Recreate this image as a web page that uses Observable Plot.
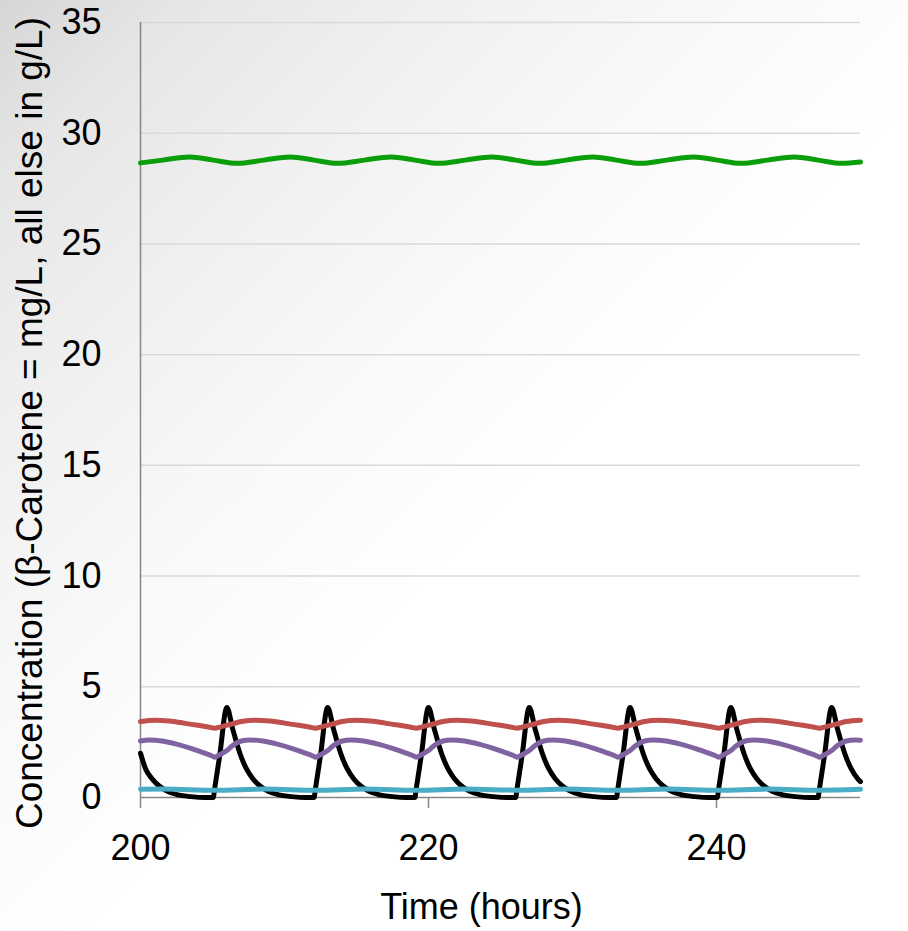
<!DOCTYPE html>
<html>
<head>
<meta charset="utf-8">
<script src="https://cdn.jsdelivr.net/npm/d3@7"></script>
<script src="https://cdn.jsdelivr.net/npm/@observablehq/plot@0.6"></script>
<style>
  html, body { margin: 0; padding: 0; }
  body {
    width: 908px; height: 931px; overflow: hidden;
    background: linear-gradient(135deg, #d6d6d6 0%, #e6e6e6 10%, #f0f0f0 24%, #f9f9f9 40%, #ffffff 55%);
  }
  #chart svg { display: block; }
</style>
</head>
<body>
<div id="chart"></div>
<script>
// ---- axes ----
const xTicks = [200, 220, 240];
const yTicks = [0, 5, 10, 15, 20, 25, 30, 35];
const xLabel = "Time (hours)";
const yLabel = "Concentration (β-Carotene = mg/L, all else in g/L)";

// ---- series ----
const greenT = [200, 201.55, 203.4, 205.05, 206.7, 208.55, 210.4, 212.05, 213.7, 215.55, 217.4, 219.05, 220.7, 222.55, 224.4, 226.05, 227.7, 229.55, 231.4, 233.05, 234.7, 236.55, 238.4, 240.05, 241.7, 243.55, 245.4, 247.05, 248.7, 250];
const greenV = [28.66, 28.785, 28.93, 28.785, 28.64, 28.785, 28.93, 28.785, 28.64, 28.785, 28.93, 28.785, 28.64, 28.785, 28.93, 28.785, 28.64, 28.785, 28.93, 28.785, 28.64, 28.785, 28.93, 28.785, 28.64, 28.785, 28.93, 28.785, 28.64, 28.7];

const blackT = [200, 200.35, 200.8, 201.3, 201.75, 202.6, 203.5, 204.5,
  205.05, 205.15, 205.5, 206, 206.4, 206.9, 207.35, 207.8, 208.3, 208.75, 209.6, 210.5, 211.5,
  212.05, 212.15, 212.5, 213, 213.4, 213.9, 214.35, 214.8, 215.3, 215.75, 216.6, 217.5, 218.5,
  219.05, 219.15, 219.5, 220, 220.4, 220.9, 221.35, 221.8, 222.3, 222.75, 223.6, 224.5, 225.5,
  226.05, 226.15, 226.5, 227, 227.4, 227.9, 228.35, 228.8, 229.3, 229.75, 230.6, 231.5, 232.5,
  233.05, 233.15, 233.5, 234, 234.4, 234.9, 235.35, 235.8, 236.3, 236.75, 237.6, 238.5, 239.5,
  240.05, 240.15, 240.5, 241, 241.4, 241.9, 242.35, 242.8, 243.3, 243.75, 244.6, 245.5, 246.5,
  247.05, 247.15, 247.5, 248, 248.4, 248.9, 249.35, 249.8, 250];
const blackV = [2.0, 1.3, 0.85, 0.52, 0.32, 0.12, 0.04, 0,
  0, 0.4, 1.9, 4.07, 3.1, 2.0, 1.3, 0.85, 0.52, 0.32, 0.12, 0.04, 0,
  0, 0.4, 1.9, 4.07, 3.1, 2.0, 1.3, 0.85, 0.52, 0.32, 0.12, 0.04, 0,
  0, 0.4, 1.9, 4.07, 3.1, 2.0, 1.3, 0.85, 0.52, 0.32, 0.12, 0.04, 0,
  0, 0.4, 1.9, 4.07, 3.1, 2.0, 1.3, 0.85, 0.52, 0.32, 0.12, 0.04, 0,
  0, 0.4, 1.9, 4.07, 3.1, 2.0, 1.3, 0.85, 0.52, 0.32, 0.12, 0.04, 0,
  0, 0.4, 1.9, 4.07, 3.1, 2.0, 1.3, 0.85, 0.52, 0.32, 0.12, 0.04, 0,
  0, 0.4, 1.9, 4.07, 3.1, 2.0, 1.3, 0.85, 0.72];

const redT = [200, 201, 202, 203, 204, 204.8,
  205.15, 205.5, 206.4, 207, 208, 209, 210, 211, 211.8,
  212.15, 212.5, 213.4, 214, 215, 216, 217, 218, 218.8,
  219.15, 219.5, 220.4, 221, 222, 223, 224, 225, 225.8,
  226.15, 226.5, 227.4, 228, 229, 230, 231, 232, 232.8,
  233.15, 233.5, 234.4, 235, 236, 237, 238, 239, 239.8,
  240.15, 240.5, 241.4, 242, 243, 244, 245, 246, 246.8,
  247.15, 247.5, 248.4, 249, 250];
const redV = [3.43, 3.49, 3.45, 3.36, 3.26, 3.17,
  3.13, 3.18, 3.33, 3.43, 3.49, 3.45, 3.36, 3.26, 3.17,
  3.13, 3.18, 3.33, 3.43, 3.49, 3.45, 3.36, 3.26, 3.17,
  3.13, 3.18, 3.33, 3.43, 3.49, 3.45, 3.36, 3.26, 3.17,
  3.13, 3.18, 3.33, 3.43, 3.49, 3.45, 3.36, 3.26, 3.17,
  3.13, 3.18, 3.33, 3.43, 3.49, 3.45, 3.36, 3.26, 3.17,
  3.13, 3.18, 3.33, 3.43, 3.49, 3.45, 3.36, 3.26, 3.17,
  3.13, 3.18, 3.33, 3.43, 3.49];

const purpleT = [200, 200.6, 201.5, 202.5, 203.5, 204.5, 204.9,
  205.15, 205.5, 206, 206.4, 207, 207.6, 208.5, 209.5, 210.5, 211.5, 211.9,
  212.15, 212.5, 213, 213.4, 214, 214.6, 215.5, 216.5, 217.5, 218.5, 218.9,
  219.15, 219.5, 220, 220.4, 221, 221.6, 222.5, 223.5, 224.5, 225.5, 225.9,
  226.15, 226.5, 227, 227.4, 228, 228.6, 229.5, 230.5, 231.5, 232.5, 232.9,
  233.15, 233.5, 234, 234.4, 235, 235.6, 236.5, 237.5, 238.5, 239.5, 239.9,
  240.15, 240.5, 241, 241.4, 242, 242.6, 243.5, 244.5, 245.5, 246.5, 246.9,
  247.15, 247.5, 248, 248.4, 249, 249.6, 250];
const purpleV = [2.55, 2.6, 2.55, 2.41, 2.22, 1.99, 1.9,
  1.82, 1.93, 2.12, 2.35, 2.55, 2.6, 2.55, 2.41, 2.22, 1.99, 1.9,
  1.82, 1.93, 2.12, 2.35, 2.55, 2.6, 2.55, 2.41, 2.22, 1.99, 1.9,
  1.82, 1.93, 2.12, 2.35, 2.55, 2.6, 2.55, 2.41, 2.22, 1.99, 1.9,
  1.82, 1.93, 2.12, 2.35, 2.55, 2.6, 2.55, 2.41, 2.22, 1.99, 1.9,
  1.82, 1.93, 2.12, 2.35, 2.55, 2.6, 2.55, 2.41, 2.22, 1.99, 1.9,
  1.82, 1.93, 2.12, 2.35, 2.55, 2.6, 2.55, 2.41, 2.22, 1.99, 1.9,
  1.82, 1.93, 2.12, 2.35, 2.55, 2.6, 2.59];

const cyanT = [200, 201.65, 205.15, 208.65, 212.15, 215.65, 219.15, 222.65, 226.15, 229.65, 233.15, 236.65, 240.15, 243.65, 247.15, 250];
const cyanV = [0.37, 0.38, 0.33, 0.38, 0.33, 0.38, 0.33, 0.38, 0.33, 0.38, 0.33, 0.38, 0.33, 0.38, 0.33, 0.37];

const seriesColors = {black: "#000000", red: "#c0504d", purple: "#8064a2", green: "#0a9e0a", cyan: "#4bacc6"};

function toRows(T, V) { return T.map((t, i) => ({t, v: V[i]})); }
const black = toRows(blackT, blackV);
const red = toRows(redT, redV);
const purple = toRows(purpleT, purpleV);
const green = toRows(greenT, greenV);
const cyan = toRows(cyanT, cyanV);

const font = "'Liberation Sans', Arial, sans-serif";
const lw = 5;
const fs = 36;

const chart = Plot.plot({
  width: 908,
  height: 931,
  marginLeft: 140,
  marginRight: 48,
  marginTop: 22,
  marginBottom: 134,
  style: {background: "transparent", fontFamily: font, fontSize: fs + "px", color: "#000", overflow: "visible"},
  x: {domain: [200, 250]},
  y: {domain: [0, 35]},
  marks: [
    Plot.gridY(yTicks.filter(d => d > 0), {stroke: "#d9d9d9", strokeOpacity: 1, strokeWidth: 1.5}),
    Plot.ruleX([200], {y1: 0, y2: 35, stroke: "#868686", strokeWidth: 1.5}),
    Plot.ruleY([0], {stroke: "#868686", strokeWidth: 1.5}),
    Plot.axisX({ticks: xTicks, tickSize: 11, tickPadding: 26, stroke: "#868686", strokeWidth: 1.5, fill: "#000", fontSize: fs, label: null}),
    Plot.axisY({ticks: yTicks, tickSize: 0, tickPadding: 39, fill: "#000", fontSize: fs, label: null}),
    Plot.line(black, {x: "t", y: "v", stroke: seriesColors.black, strokeWidth: lw, curve: "monotone-x"}),
    Plot.line(red, {x: "t", y: "v", stroke: seriesColors.red, strokeWidth: lw, curve: "monotone-x"}),
    Plot.line(purple, {x: "t", y: "v", stroke: seriesColors.purple, strokeWidth: lw, curve: "monotone-x"}),
    Plot.line(green, {x: "t", y: "v", stroke: seriesColors.green, strokeWidth: lw, curve: "monotone-x"}),
    Plot.line(cyan, {x: "t", y: "v", stroke: seriesColors.cyan, strokeWidth: lw, curve: "monotone-x"}),
    Plot.text([xLabel], {frameAnchor: "bottom", textAnchor: "middle", dx: -19, dy: 110, fontSize: fs, fill: "#000", lineAnchor: "middle"}),
    Plot.text([yLabel], {frameAnchor: "left", textAnchor: "middle", rotate: -90, dx: -110, dy: 13, fontSize: fs, fill: "#000", lineAnchor: "middle"})
  ]
});
// compress the long rotated title to the reference's length (narrow face in the original)
d3.select(chart).selectAll("text").filter(function() { return this.textContent === yLabel; })
  .attr("textLength", 812).attr("lengthAdjust", "spacingAndGlyphs");
document.getElementById("chart").appendChild(chart);
</script>
</body>
</html>
